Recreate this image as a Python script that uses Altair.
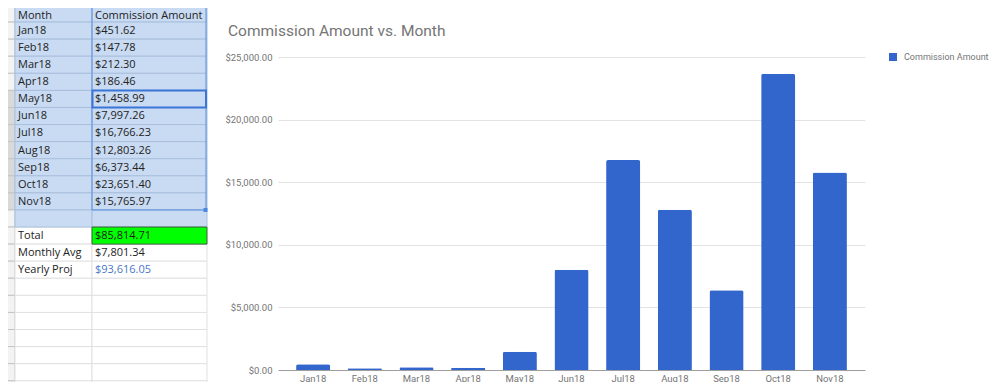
import altair as alt
import pandas as pd

# ---------------- data ----------------
months = ["Jan18", "Feb18", "Mar18", "Apr18", "May18", "Jun18",
          "Jul18", "Aug18", "Sep18", "Oct18", "Nov18"]
amounts = [451.62, 147.78, 212.30, 186.46, 1458.99, 7997.26,
           16766.23, 12803.26, 6373.44, 23651.40, 15765.97]
series_name = "Commission Amount"
header_labels = ["Month", "Commission Amount"]
summary_labels = ["Total", "Monthly Avg", "Yearly Proj"]
summary_values = [85814.71, 7801.34, 93616.05]
y_ticks = [0, 5000, 10000, 15000, 20000, 25000]
title_text = "Commission Amount vs. Month"

# ---------------- layout (page pixels) ----------------
PLOT_X0, PLOT_Y0 = 278, 57
PLOT_W, PLOT_H = 587, 313
PAGE_W, PAGE_H = 1000, 390
MARGIN = 8
COL_EDGES = [0, 15, 92, 207]
TEXT_X = [18, 95]
ROW_TOP, ROW_H, N_ROWS = 5, 17.08, 23
TEXT_ROW_POS = 0.52
HEADER_TEXT_POS = 0.66

SEL_FILL = "#c9dbf2"
SEL_GRID = "#a9bfdd"
GRID = "#e1e1e1"
GREEN = "#00ff00"
TEXT_C = "#222222"
LINK_C = "#4a78c8"


def money(v):
    return "${:,.2f}".format(v)


col_a = [header_labels[0]] + months + [""] + summary_labels
col_b = [header_labels[1]] + [money(v) for v in amounts] + [""] + [money(v) for v in summary_values]
col_a += [""] * (N_ROWS - len(col_a))
col_b += [""] * (N_ROWS - len(col_b))
sel_last = len(months) + 1          # blank row after Nov18 is still shaded
total_row = len(months) + 2
active_row = 1 + months.index("May18")

cells = []
texts = []
for r in range(N_ROWS):
    hdr_fill = "#d9d9d9" if active_row <= r <= len(months) else "#f3f3f3"
    cells.append(dict(x=COL_EDGES[0], x2=COL_EDGES[1], y=r, y2=r + 1,
                      bg=hdr_fill, ln="#c4c4c4", z=0))
    for c in (1, 2):
        if r == total_row and c == 2:
            bg, ln, z = GREEN, "#3d5c3d", 3
        elif r <= sel_last:
            bg, ln, z = SEL_FILL, SEL_GRID, 2
        else:
            bg, ln, z = "#ffffff", GRID, 1
        cells.append(dict(x=COL_EDGES[c], x2=COL_EDGES[c + 1], y=r, y2=r + 1,
                          bg=bg, ln=ln, z=z))
    pos = HEADER_TEXT_POS if r == 0 else TEXT_ROW_POS
    texts.append(dict(x=TEXT_X[0], ym=r + pos, t=col_a[r], tc=TEXT_C))
    texts.append(dict(x=TEXT_X[1], ym=r + pos, t=col_b[r],
                      tc=LINK_C if r == total_row + 2 else TEXT_C))

cells_df = pd.DataFrame(cells).sort_values("z", kind="stable")
texts_df = pd.DataFrame([t for t in texts if t["t"]])
outline_df = pd.DataFrame([
    dict(x=COL_EDGES[2], x2=COL_EDGES[3] - 1, y=0, y2=sel_last, ln="#5a8fe0", w=1),
    dict(x=COL_EDGES[2] + 0.5, x2=COL_EDGES[3] - 1, y=active_row, y2=active_row + 1,
         ln="#3b76d6", w=2),
])
handle_df = pd.DataFrame([dict(x=COL_EDGES[3] - 1.5, y=sel_last)])

sx = alt.Scale(domain=[0, PAGE_W], range=[-PLOT_X0, PAGE_W - PLOT_X0], nice=False, zero=False)
sy = alt.Scale(domain=[0, N_ROWS],
               range=[ROW_TOP - PLOT_Y0, ROW_TOP + ROW_H * N_ROWS - PLOT_Y0],
               nice=False, zero=False)

rect = alt.Chart(cells_df).mark_rect(strokeWidth=1).encode(
    x=alt.X("x:Q", scale=sx, axis=None), x2="x2:Q",
    y=alt.Y("y:Q", scale=sy, axis=None), y2="y2:Q",
    fill=alt.Fill("bg:N", scale=None),
    stroke=alt.Stroke("ln:N", scale=None),
)
outline = alt.Chart(outline_df).mark_rect(fillOpacity=0).encode(
    x=alt.X("x:Q", scale=sx, axis=None), x2="x2:Q",
    y=alt.Y("y:Q", scale=sy, axis=None), y2="y2:Q",
    stroke=alt.Stroke("ln:N", scale=None),
    strokeWidth=alt.StrokeWidth("w:Q", scale=None),
)
handle = alt.Chart(handle_df).mark_square(size=16, opacity=1, color="#4a86e8").encode(
    x=alt.X("x:Q", scale=sx, axis=None),
    y=alt.Y("y:Q", scale=sy, axis=None),
)
text = alt.Chart(texts_df).mark_text(
    align="left", baseline="middle", font="Open Sans", fontSize=11
).encode(
    x=alt.X("x:Q", scale=sx, axis=None),
    y=alt.Y("ym:Q", scale=sy, axis=None),
    text="t:N",
    fill=alt.Fill("tc:N", scale=None),
)
sheet = alt.layer(rect, outline, handle, text)

# ---------------- chart ----------------
bars_df = pd.DataFrame({"Month": months, "Amount": amounts, "Series": series_name})

bars = alt.Chart(bars_df).mark_bar(cornerRadiusTopLeft=2, cornerRadiusTopRight=2).encode(
    x=alt.X("Month:N", sort=months,
            scale=alt.Scale(paddingInner=0.34, paddingOuter=0.35),
            axis=alt.Axis(title=None, labelAngle=0, ticks=False, labelPadding=3,
                          labelFont="Roboto", labelFontSize=9.5, labelColor="#757575",
                          domainColor="#9e9e9e", domainWidth=1, grid=False)),
    y=alt.Y("Amount:Q", scale=alt.Scale(domain=[0, 25000], nice=False),
            axis=alt.Axis(title=None, values=y_ticks, format="$,.2f", grid=True,
                          gridColor="#e3e3e3", domain=False, ticks=False, labelPadding=6,
                          labelFont="Roboto", labelFontSize=9.5, labelColor="#757575")),
    color=alt.Color("Series:N", scale=alt.Scale(range=["#3366cc"]),
                    legend=alt.Legend(orient="none", legendX=888 - PLOT_X0, legendY=-5,
                                      title=None, symbolType="square", symbolSize=64,
                                      labelFont="Roboto", labelFontSize=9,
                                      labelColor="#757575", labelOffset=6, padding=0)),
)
title_mark = alt.Chart(pd.DataFrame({"t": [title_text]})).mark_text(
    align="left", baseline="middle", font="Roboto", fontSize=15.5, color="#757575"
).encode(text="t:N", x=alt.value(228 - PLOT_X0), y=alt.value(31 - PLOT_Y0))

plot = alt.layer(bars, title_mark)

chart = alt.layer(sheet, plot).resolve_scale(
    x="independent", y="independent"
).properties(
    width=PLOT_W, height=PLOT_H,
    autosize=alt.AutoSizeParams(type="none"),
    padding={"left": PLOT_X0 - MARGIN, "top": PLOT_Y0 - MARGIN,
             "right": PAGE_W - 2 * MARGIN - (PLOT_X0 - MARGIN) - PLOT_W,
             "bottom": PAGE_H - 2 * MARGIN - (PLOT_Y0 - MARGIN) - PLOT_H},
).configure_view(stroke=None)

chart.save("out.html", embed_options={"renderer": "svg", "actions": False})
